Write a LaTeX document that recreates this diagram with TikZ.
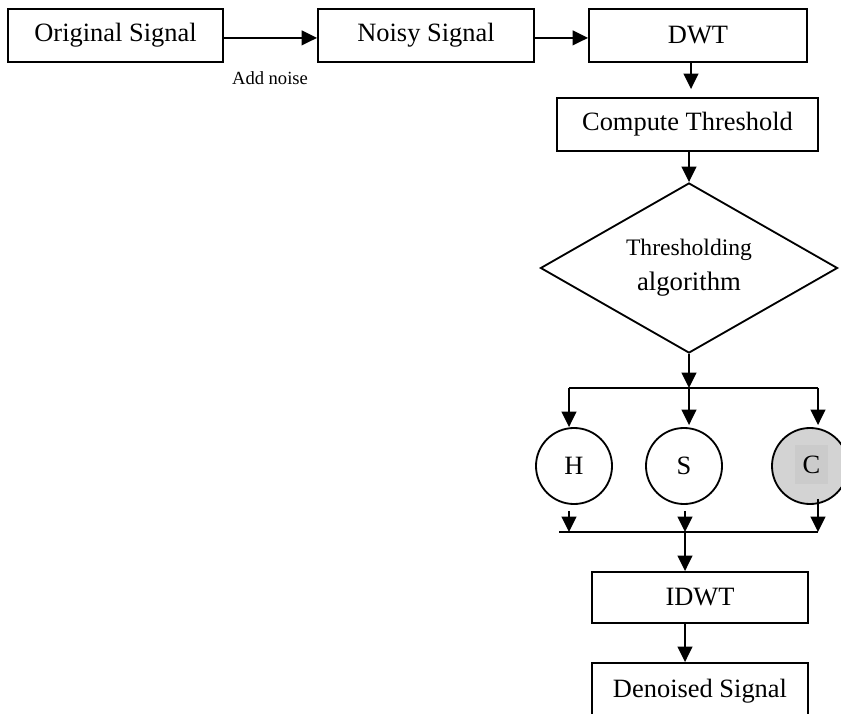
\documentclass[tikz,border=0pt]{standalone}
\usepackage{fontspec}
\setmainfont{Liberation Serif}
\usetikzlibrary{arrows.meta,shapes.geometric}
\definecolor{cfill}{RGB}{211,211,211}
\definecolor{cbox}{RGB}{203,203,203}
\tikzset{
	blk/.style={draw,rectangle,line width=1.3pt,inner sep=0pt,minimum height=1.325cm},
	circ/.style={draw,circle,line width=1.3pt,inner sep=0pt,minimum size=1.9cm},
	arr/.style={line width=1.3pt,-{Triangle[length=11pt,width=10.5pt]}},
	ln/.style={line width=1.3pt}
}
\begin{document}
\begin{tikzpicture}[x=0.025cm,y=-0.025cm,font=\fontsize{18.8}{22}\selectfont]
	\clip (0,0) rectangle (841,714);
	% top row
	\node[blk,minimum width=5.375cm] (orig) at (115.5,35.5) {Original Signal};
	\node[blk,minimum width=5.4cm] (noisy) at (426,35.5) {Noisy Signal};
	\node[blk,minimum width=5.45cm] (dwt) at (698,35.5) {DWT};
	\node[font=\fontsize{13.2}{16}\selectfont] (addn) at (270,78) {Add noise};
	\draw[arr] ([yshift=-0.06cm]orig.east) -- ([yshift=-0.06cm]noisy.west);
	\draw[arr] ([yshift=-0.06cm]noisy.east) -- ([yshift=-0.06cm]dwt.west);
	% threshold
	\node[blk,minimum width=6.525cm] (thr) at (687.5,124.5) {Compute Threshold};
	\node[draw,diamond,line width=1.3pt,inner sep=0pt,shape aspect=1.75,
		minimum width=7.425cm,minimum height=4.25cm,align=center] (dia) at (689,268)
		{{\fontsize{16.8}{20}\selectfont Thresholding}\\[3pt]{\fontsize{19}{22}\selectfont algorithm}};
	\draw[arr,shorten >=0.2cm] ([xshift=-0.175cm]dwt.south) -- ([xshift=-0.175cm]dwt.south |- thr.north);
	\draw[arr] (thr.south -| dia.north) -- (dia.north);
	% H, S, C
	\coordinate (sp1) at (569,388);
	\coordinate (sp2) at (689,388);
	\coordinate (sp3) at (818,388);
	\node[circ] (H) at (574,466) {H};
	\node[circ] (S) at (684,466) {S};
	\node[circ,fill=cfill] (C) at (810,466) {};
	\node[fill=cbox,inner sep=0pt,minimum width=0.825cm,minimum height=0.975cm] (Ct) at (811.5,464.5) {C};
	\draw[arr] (dia.south) -- (sp2);
	\draw[ln] (sp1) -- (sp3);
	\draw[arr] (sp1) -- (sp1 |- H.north);
	\draw[arr] (sp2) -- ([yshift=0.05cm]sp2 |- S.north);
	\draw[arr] (sp3) -- ([yshift=0.05cm]sp3 |- C.north);
	\coordinate (ql) at (559,532);
	\coordinate (sq1) at (569,532);
	\coordinate (sq2) at (685,532);
	\coordinate (sq3) at (818,532);
	\draw[arr] ([yshift=-0.15cm]sq1 |- H.south) -- (sq1);
	\draw[arr] ([yshift=-0.15cm]sq2 |- S.south) -- (sq2);
	\draw[arr] ([yshift=0.15cm]sq3 |- C.south) -- (sq3);
	\draw[ln] (ql) -- (sq3);
	% output
	\node[blk,minimum width=5.4cm,minimum height=1.275cm] (idwt) at (700,597.5) {IDWT};
	\node[blk,minimum width=5.4cm,minimum height=1.425cm] (den) at (700,691.5) {Denoised Signal};
	\draw[arr] (sq2) -- (sq2 |- idwt.north);
	\draw[arr] (idwt.south -| sq2) -- (den.north -| sq2);
\end{tikzpicture}
\end{document}
